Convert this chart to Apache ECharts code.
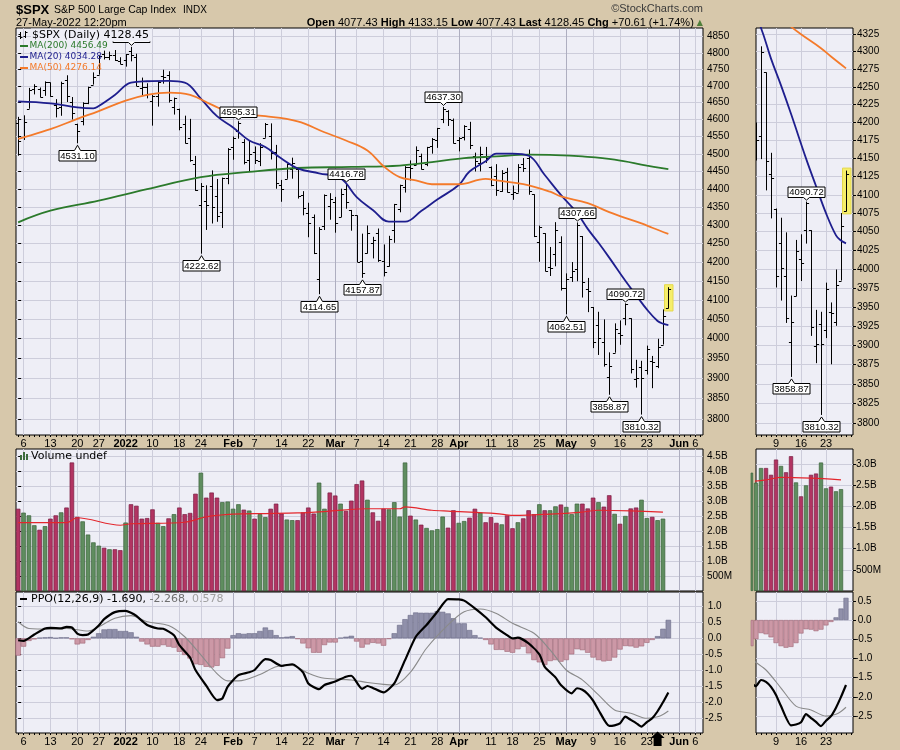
<!DOCTYPE html>
<html><head><meta charset="utf-8">
<script src="https://cdn.jsdelivr.net/npm/echarts@6.0.0/dist/echarts.min.js"></script>
<style>html,body{margin:0;padding:0;background:#D7C8AB;}#c{width:900px;height:750px;}</style>
</head><body><div id="c"></div>
<script>
// ---------------- DATA ----------------
// trading days Dec 3 2021 .. May 27 2022 (index 0..121)
const open = [4589.49,4548.37,4631.97,4690.86,4691.00,4687.64,4710.30,4642.99,4636.46,4719.13,
4652.50,4587.90,4594.96,4650.36,4703.96,4733.99,4795.49,4788.64,4794.23,4775.21,
4778.14,4804.51,4787.99,4693.39,4697.66,4655.34,4669.14,4728.59,4733.56,4637.99,
4632.24,4588.03,4547.35,4471.38,4356.32,4366.64,4408.43,4380.58,4336.19,4431.79,
4519.57,4566.39,4535.41,4482.79,4505.75,4480.02,4547.00,4553.24,4506.27,4412.61,
4429.28,4455.75,4456.06,4384.57,4332.74,4324.01,4155.77,4298.38,4354.17,4363.14,
4322.56,4401.31,4342.12,4327.01,4202.66,4223.10,4252.55,4279.50,4202.75,4188.82,
4288.14,4345.11,4407.34,4462.40,4469.10,4493.10,4469.98,4522.91,4541.09,4602.86,
4624.20,4599.02,4540.32,4547.97,4572.45,4494.17,4474.65,4494.15,4462.64,4437.59,
4394.30,4449.12,4385.63,4390.63,4472.26,4489.17,4385.83,4255.34,4278.14,4186.52,
4222.58,4253.75,4130.61,4159.78,4181.18,4270.43,4128.17,4081.27,4035.18,3990.08,
3903.95,3963.90,4013.02,4052.00,4051.98,3899.00,3927.76,3919.42,3942.94,3929.59,
3984.60,4077.43];
const high = [4608.03,4612.60,4694.04,4705.06,4695.26,4713.57,4710.30,4660.47,4712.60,4731.99,
4666.70,4587.90,4651.14,4697.67,4740.74,4791.49,4807.02,4804.06,4808.93,4786.83,
4796.64,4818.62,4797.70,4725.01,4707.95,4673.02,4714.13,4748.83,4744.13,4665.13,
4632.24,4611.55,4602.11,4494.52,4417.35,4411.01,4453.23,4428.74,4432.72,4516.89,
4550.49,4595.31,4542.88,4539.66,4521.86,4531.32,4590.03,4588.92,4526.33,4426.22,
4472.77,4489.55,4456.06,4394.60,4362.12,4329.50,4294.73,4385.34,4388.84,4378.45,
4401.48,4416.78,4342.12,4327.01,4276.94,4299.40,4268.28,4291.01,4247.57,4271.05,
4358.90,4412.67,4465.40,4481.75,4522.00,4501.07,4520.58,4546.03,4575.65,4637.30,
4627.77,4603.07,4548.70,4583.50,4593.45,4503.94,4521.16,4520.41,4464.35,4471.00,
4453.92,4460.46,4410.31,4471.03,4488.29,4512.94,4385.83,4299.02,4278.14,4240.71,
4308.45,4269.68,4169.81,4200.10,4307.66,4270.43,4157.69,4081.27,4068.82,4049.09,
3964.80,4038.88,4046.46,4090.72,4051.98,3945.96,3943.42,3981.88,3955.68,3999.33,
4075.14,4133.15];
const low = [4495.12,4540.51,4631.97,4674.52,4665.98,4670.24,4667.60,4606.52,4611.22,4651.89,
4600.22,4531.10,4583.16,4645.53,4703.96,4733.99,4780.04,4778.08,4775.33,4765.75,
4758.17,4774.27,4699.44,4671.26,4662.74,4582.24,4638.27,4706.71,4650.29,4614.75,
4568.70,4530.20,4477.95,4395.34,4222.62,4287.11,4304.80,4309.50,4292.46,4414.02,
4483.53,4544.32,4470.39,4451.50,4471.47,4465.40,4547.00,4484.31,4401.41,4364.84,
4429.28,4429.68,4373.81,4327.22,4267.11,4221.51,4114.65,4286.83,4315.12,4279.54,
4322.56,4345.56,4284.98,4199.85,4157.87,4223.10,4209.80,4200.49,4161.72,4187.90,
4251.99,4335.65,4390.57,4424.30,4469.10,4455.81,4465.17,4501.07,4517.69,4589.66,
4581.32,4530.41,4507.57,4539.21,4514.17,4450.04,4450.30,4474.60,4408.38,4381.34,
4392.70,4390.77,4370.30,4390.63,4448.76,4384.47,4267.62,4200.82,4175.04,4162.90,
4188.63,4124.28,4062.51,4147.08,4148.91,4106.01,4067.91,3975.48,3958.17,3928.82,
3858.87,3963.90,3983.99,4033.93,3911.91,3876.58,3810.32,3909.04,3875.13,3925.03,
3984.60,4077.43];
const close = [4538.43,4591.67,4686.75,4701.21,4667.45,4712.02,4668.97,4634.09,4709.85,4668.67,
4620.64,4568.02,4649.23,4696.56,4725.79,4791.19,4786.35,4793.06,4778.73,4766.18,
4796.56,4793.54,4700.58,4696.05,4677.03,4670.29,4713.07,4726.35,4659.03,4662.85,
4577.11,4532.76,4482.73,4397.94,4410.13,4356.45,4349.93,4326.51,4431.85,4515.55,
4546.54,4589.38,4477.44,4500.53,4483.87,4521.54,4587.18,4504.08,4418.64,4401.67,
4471.07,4475.01,4380.26,4348.87,4304.76,4225.50,4288.70,4384.65,4373.94,4306.26,
4386.54,4363.49,4328.87,4201.09,4170.70,4277.88,4259.52,4204.31,4173.11,4262.45,
4357.86,4411.67,4463.12,4461.18,4511.61,4456.24,4520.16,4543.06,4575.52,4631.60,
4602.45,4530.41,4545.86,4582.64,4525.12,4481.15,4500.21,4488.28,4412.53,4397.45,
4446.59,4392.59,4391.69,4462.21,4459.45,4393.66,4271.78,4296.12,4175.20,4183.96,
4287.50,4131.93,4155.38,4175.48,4300.17,4146.87,4123.34,3991.24,4001.05,3935.18,
3930.08,4023.89,4008.01,4088.85,3923.68,3900.79,3901.36,3973.75,3941.48,3978.73,
4057.84,4128.45];
const prevClose0 = 4577.10;   // close before the first bar (colours first volume bar)

// volume in billions (last day undefined)
const volume = [2.74,2.61,2.52,2.19,2.04,2.16,2.41,2.52,2.62,2.78,
4.28,2.47,2.32,1.88,1.62,1.51,1.44,1.39,1.39,1.36,
2.28,2.89,2.84,2.41,2.43,2.72,2.27,2.16,2.42,2.56,
2.78,2.56,2.60,3.24,3.94,3.11,3.28,3.11,2.96,2.98,
2.74,2.89,2.71,2.68,2.41,2.56,2.46,2.74,2.91,2.58,
2.38,2.36,2.36,2.62,2.78,2.58,3.61,2.74,3.28,3.18,
2.91,2.67,3.01,3.56,3.68,3.04,2.62,2.34,2.74,2.72,
2.96,2.48,4.28,2.51,2.38,2.21,2.10,2.02,2.06,2.48,
2.11,2.69,2.27,2.33,2.44,2.74,2.61,2.29,2.46,2.27,
2.22,2.52,2.09,2.29,2.42,2.69,2.56,2.89,2.69,2.69,
2.82,2.88,2.80,2.56,2.91,2.91,2.75,3.11,2.96,2.81,
3.19,2.57,2.24,2.50,2.75,2.78,3.04,2.43,2.47,2.36,
2.41,null];
const volMA = [[0,2.28],[9,2.28],[11,2.44],[19,2.19],[21,2.24],[31,2.29],[35,2.47],[40,2.56],[46,2.58],
[52,2.60],[58,2.66],[65,2.74],[71,2.74],[72,2.80],[77,2.69],[80,2.66],[89,2.58],[92,2.52],[99,2.56],
[105,2.63],[108,2.69],[114,2.67],[120,2.63]];

// moving averages: [bar index, value]
const ma200 = [[0,4308],[6,4340],[15,4368],[24,4400],[34,4434],[43,4449],[52,4460],[62,4463],[71,4467],
[77,4477],[83,4488],[89,4493],[95,4498],[100,4497],[105,4493],[111,4484],[117,4467],[121,4456.49]];
const ma50 = [[0,4544],[1,4548],[6,4572],[11,4602],[15,4625],[20,4656],[24,4673],[28,4680],[32,4673],
[36,4644],[40,4618],[46,4610],[52,4595],[57,4563],[61,4539],[65,4510],[68,4465],[71,4434],[74,4425],
[77,4414],[82,4414],[87,4429],[89,4425],[94,4414],[99,4393],[101,4380],[106,4361],[110,4336],
[112,4325],[116,4305],[118,4293],[121,4276.14]];
const ma20 = [[0,4654],[6,4648],[11,4636],[14,4633],[15,4640],[18,4673],[21,4710],[24,4714],[28,4715],
[31,4710],[34,4662],[37,4610],[40,4577],[43,4539],[46,4520],[49,4487],[52,4459],[56,4445],[60,4431],
[63,4378],[66,4342],[69,4310],[72,4310],[75,4339],[78,4371],[82,4412],[84,4450],[87,4479],[89,4501],
[92,4501],[95,4495],[98,4440],[101,4384],[104,4334],[106,4290],[108,4252],[110,4212],[113,4150],
[115,4112],[117,4075],[119,4045],[120,4038],[121,4034.28]];

// PPO(12,26,9)
const ppo = [[0,-0.06],[1,-0.08],[3,0.12],[5,0.31],[6,0.33],[8,0.31],[9,0.36],[10,0.34],[11,0.15],[12,0.10],
[13,0.12],[15,0.40],[16,0.60],[18,0.82],[20,0.86],[21,0.80],[22,0.70],[24,0.42],[26,0.31],[27,0.30],
[29,0.10],[30,-0.21],[32,-0.60],[33,-0.99],[35,-1.48],[37,-1.93],[38,-1.88],[39,-1.51],[41,-1.15],
[43,-1.06],[44,-0.99],[46,-0.65],[47,-0.68],[49,-0.86],[51,-0.81],[53,-1.06],[54,-1.41],[56,-1.59],
[57,-1.46],[59,-1.35],[61,-1.20],[62,-1.17],[64,-1.58],[65,-1.49],[66,-1.55],[68,-1.69],[70,-1.41],
[72,-0.68],[74,0.05],[76,0.42],[78,0.83],[80,1.23],[82,1.22],[83,1.18],[85,0.94],[87,0.66],[89,0.33],
[91,0.10],[92,0.00],[93,0.02],[95,-0.16],[97,-0.50],[98,-0.89],[100,-1.22],[101,-1.46],[103,-1.72],
[104,-1.56],[105,-1.61],[106,-1.74],[107,-1.95],[108,-2.24],[110,-2.74],[111,-2.72],[112,-2.66],
[113,-2.45],[114,-2.55],[115,-2.65],[116,-2.76],[117,-2.62],[118,-2.50],[119,-2.28],[120,-2.00],[121,-1.69]];
const ppoSignal = [[0,0.52],[2,0.31],[6,0.29],[9,0.31],[13,0.23],[15,0.36],[18,0.63],[21,0.71],[24,0.52],
[28,0.40],[31,0.05],[34,-0.52],[37,-1.10],[39,-1.33],[41,-1.33],[45,-1.13],[48,-0.89],[51,-0.85],
[54,-1.09],[57,-1.25],[62,-1.30],[65,-1.38],[68,-1.44],[70,-1.46],[73,-1.06],[76,-0.31],[80,0.42],
[83,0.83],[86,0.92],[89,0.78],[92,0.47],[96,0.16],[99,-0.36],[102,-0.99],[105,-1.30],[108,-1.77],
[111,-2.24],[114,-2.34],[117,-2.50],[119,-2.45],[120,-2.38],[121,-2.27]];
const ppoHist = [-0.54,-0.26,-0.08,-0.03,0.02,0.03,0.04,0.01,0.03,0.03,
-0.03,-0.19,-0.16,-0.05,0.05,0.16,0.28,0.29,0.29,0.23,
0.23,0.19,0.05,-0.10,-0.19,-0.26,-0.26,-0.21,-0.26,-0.29,
-0.42,-0.52,-0.63,-0.81,-0.83,-0.89,-0.91,-0.86,-0.62,-0.32,
0.10,0.16,0.14,0.16,0.16,0.23,0.34,0.26,0.10,0.03,
0.05,0.07,-0.02,-0.16,-0.31,-0.45,-0.45,-0.21,-0.13,-0.13,
0.02,0.05,0.08,-0.10,-0.29,-0.19,-0.14,-0.16,-0.23,-0.02,
0.16,0.42,0.60,0.73,0.81,0.80,0.80,0.80,0.85,0.83,
0.78,0.63,0.47,0.47,0.26,0.10,0.02,-0.05,-0.19,-0.36,
-0.36,-0.42,-0.45,-0.34,-0.26,-0.47,-0.68,-0.75,-0.83,-0.71,
-0.68,-0.73,-0.68,-0.50,-0.34,-0.37,-0.45,-0.60,-0.68,-0.72,
-0.70,-0.60,-0.35,-0.24,-0.25,-0.29,-0.25,-0.14,-0.05,0.07,
0.30,0.578];

// price callouts [bar index, price, +1 above / -1 below]
const calloutsMain = [[11,4531.10,-1],[21,4818.62,1],[34,4222.62,-1],[41,4595.31,1],[56,4114.65,-1],
[61,4416.78,1],[64,4157.87,-1],[79,4637.30,1],[102,4062.51,-1],[104,4307.66,1],[110,3858.87,-1],
[113,4090.72,1],[116,3810.32,-1]];
const calloutsZoom = [[110,3858.87,-1],[113,4090.72,1],[116,3810.32,-1]];
const signalIdx = 119;   // PPO crossover arrow

// axis ticks
const xTickIdx = [1,6,11,15,20,25,30,34,40,44,49,54,59,63,68,73,78,82,88,92,97,102,107,112,117,123,126];
const xTickText = ['6','13','20','27','2022','10','18','24','Feb','7','14','22','Mar','7','14','21','28','Apr','11','18','25','May','9','16','23','Jun','6'];
const monthIdx = [20,40,59,82,102,123];
const xTickIdxZoom = [107,112,117];
const xTickTextZoom = ['9','16','23'];
const yTicksMain = [3800,3850,3900,3950,4000,4050,4100,4150,4200,4250,4300,4350,4400,4450,4500,4550,4600,4650,4700,4750,4800,4850];
const yTicksZoom = [3800,3825,3850,3875,3900,3925,3950,3975,4000,4025,4050,4075,4100,4125,4150,4175,4200,4225,4250,4275,4300,4325];
const volTicks = [0.5,1.0,1.5,2.0,2.5,3.0,3.5,4.0,4.5];
const volTicksZoom = [0.5,1.0,1.5,2.0,2.5,3.0];
const ppoTicks = [-2.5,-2.0,-1.5,-1.0,-0.5,0.0,0.5,1.0];
const ppoTicksZoom = [-2.5,-2.0,-1.5,-1.0,-0.5,0.0,0.5];

// ---------------- STYLE ----------------
const PLOT = '#EEEEF6', GRIDC = '#CDCDDB', MONTHC = '#AEAEC0';
const F = '"Liberation Sans", Arial, sans-serif';
const FV = '"DejaVu Sans", Verdana, sans-serif';
const X0 = -0.4, X1 = 127.45, XZ0 = 103, XZ1 = 122.4;
const P_MIN = Math.log(3761), P_MAX = Math.log(4877);
const PZ_MIN = Math.log(3785), PZ_MAX = Math.log(4334);
const PPO_MIN = -2.96, PPO_MAX = 1.45, PPOZ_MIN = -2.94, PPOZ_MAX = 0.73;
const lastIdx = close.length - 1;

const barTicks = []; for (let i = 0; i <= 127; i++) barTicks.push(i);

const grids = [
  {left:16, top:28, width:687, height:407},
  {left:756, top:28, width:97, height:407},
  {left:16, top:449, width:687, height:142},
  {left:756, top:449, width:97, height:142},
  {left:16, top:592, width:687, height:141},
  {left:756, top:592, width:97, height:141}
].map(g => Object.assign(g, {show:true, backgroundColor:PLOT, borderColor:'#000', borderWidth:1, containLabel:false, outerBoundsMode:'none'}));

function fmtX(v) {
  const k = xTickIdx.indexOf(Math.round(v));
  if (k < 0) return '';
  const t = xTickText[k];
  return ['2022','Feb','Mar','Apr','May','Jun'].includes(t) ? '{m|' + t + '}' : t;
}
function fmtXZ(v) { const k = xTickIdxZoom.indexOf(Math.round(v)); return k < 0 ? '' : xTickTextZoom[k]; }

const xLabel = (show, vals, fmt) => ({show, customValues: vals, formatter: fmt, margin: 3, color:'#000', fontSize:11, fontFamily:F,
  rich:{m:{fontWeight:'bold', fontSize:11, fontFamily:F, color:'#000'}}});
function mainX(grid, min, max, vals, fmt, showLabel) {
  return {gridIndex:grid, type:'value', min, max, position:'bottom',
    axisLine:{show:false}, axisTick:{show:false, customValues:vals},
    axisLabel: xLabel(showLabel, vals, fmt),
    splitLine:{show:true, lineStyle:{color:GRIDC, width:1}}};
}
function tickX(grid, min, max) {
  return {gridIndex:grid, type:'value', min, max, position:'bottom', offset:0,
    axisLine:{show:false}, axisLabel:{show:false},
    axisTick:{show:true, length:2, customValues:barTicks, lineStyle:{color:'#000', width:1}},
    splitLine:{show:false}};
}
function monthX(grid) {
  return {gridIndex:grid, type:'value', min:X0, max:X1, position:'bottom', offset:0,
    axisLine:{show:false}, axisLabel:{show:false, customValues:monthIdx}, axisTick:{show:false, customValues:monthIdx},
    splitLine:{show:true, lineStyle:{color:MONTHC, width:1}}};
}
const xAxis = [
  mainX(0, X0, X1, xTickIdx, fmtX, true),        //0
  mainX(1, XZ0, XZ1, xTickIdxZoom, fmtXZ, true), //1
  mainX(2, X0, X1, xTickIdx, fmtX, false),       //2
  mainX(3, XZ0, XZ1, xTickIdxZoom, fmtXZ, false),//3
  mainX(4, X0, X1, xTickIdx, fmtX, true),        //4
  mainX(5, XZ0, XZ1, xTickIdxZoom, fmtXZ, true), //5
  tickX(0, X0, X1), tickX(1, XZ0, XZ1), tickX(4, X0, X1), tickX(5, XZ0, XZ1),
  monthX(0), monthX(2), monthX(4)
];

function yAx(grid, min, max, ticks, fmt, margin) {
  return {gridIndex:grid, type:'value', position:'right', min, max,
    axisLine:{show:false},
    axisTick:{show:true, length:3, customValues:ticks, lineStyle:{color:'#000'}},
    axisLabel:{show:true, customValues:ticks, formatter:fmt, margin:margin, color:'#000', fontSize:10, fontFamily:F},
    splitLine:{show:true, lineStyle:{color:GRIDC, width:1}}};
}
const fmtP = v => String(Math.round(Math.exp(v)));
const fmtV = v => v < 1 ? Math.round(v * 1000) + 'M' : v.toFixed(1) + 'B';
const fmtPPO = v => (v >= 0 ? ' ' : '') + v.toFixed(1);
const yAxis = [
  yAx(0, P_MIN, P_MAX, yTicksMain.map(Math.log), fmtP, 4),
  yAx(1, PZ_MIN, PZ_MAX, yTicksZoom.map(Math.log), fmtP, 4),
  yAx(2, 0, 4.73, volTicks, fmtV, 4),
  yAx(3, 0, 3.36, volTicksZoom, fmtV, 3),
  yAx(4, PPO_MIN, PPO_MAX, ppoTicks, fmtPPO, 2),
  yAx(5, PPOZ_MIN, PPOZ_MAX, ppoTicksZoom, fmtPPO, 2)
];

// ---------------- RENDERERS ----------------
const bars = open.map((o, i) => [i, o, high[i], low[i], close[i]]);
function ohlcItem(params, api) {
  const i = api.value(0);
  const ph = api.coord([i, Math.log(api.value(2))]);
  const pl = api.coord([i, Math.log(api.value(3))]);
  const po = api.coord([i, Math.log(api.value(1))]);
  const pc = api.coord([i, Math.log(api.value(4))]);
  const x = Math.round(ph[0]) + 0.5, t = 2.6;
  const yo = Math.round(po[1]) + 0.5, yc = Math.round(pc[1]) + 0.5;
  const ch = [];
  if (i === lastIdx) ch.push({type:'rect', shape:{x:x - 4, y:ph[1] - 2.5, width:8.5, height:pl[1] - ph[1] + 5},
    style:{fill:'#F6EE6A', stroke:'#E4D84C', lineWidth:1}});
  ch.push({type:'line', shape:{x1:x, y1:ph[1], x2:x, y2:pl[1]}, style:{stroke:'#000', lineWidth:1}});
  ch.push({type:'line', shape:{x1:x - t, y1:yo, x2:x, y2:yo}, style:{stroke:'#000', lineWidth:1}});
  ch.push({type:'line', shape:{x1:x, y1:yc, x2:x + t, y2:yc}, style:{stroke:'#000', lineWidth:1}});
  return {type:'group', children:ch};
}
function calloutItem(params, api) {
  const i = api.value(0), p = api.value(1), dir = api.value(2);
  const pt = api.coord([i, Math.log(p)]);
  const x = Math.round(pt[0]) + 0.5, y = pt[1];
  const w = 37, h = 10.5;
  let pts, ty;
  if (dir < 0) {
    const apex = y + 2, top = Math.round(y + 6.5) + 0.5, bot = top + h;
    pts = [[x - w / 2, top], [x - 3, top], [x, apex], [x + 3, top], [x + w / 2, top], [x + w / 2, bot], [x - w / 2, bot]];
    ty = (top + bot) / 2 + 0.5;
  } else {
    const apex = y - 1.5, bot = Math.round(y - 4.5) + 0.5, top = bot - h;
    pts = [[x - w / 2, bot], [x - 3, bot], [x, apex], [x + 3, bot], [x + w / 2, bot], [x + w / 2, top], [x - w / 2, top]];
    ty = (top + bot) / 2 + 0.5;
  }
  return {type:'group', children:[
    {type:'polygon', shape:{points:pts}, style:{fill:'#fff', stroke:'#000', lineWidth:1}},
    {type:'text', style:{text:p.toFixed(2), x:x, y:ty, align:'center', verticalAlign:'middle', font:'9.5px ' + F, fill:'#000'}}
  ]};
}
function arrowItem(params, api) {
  const p = api.coord([api.value(0), api.value(1)]);
  const x = p[0], b = p[1];
  return {type:'polygon', shape:{points:[[x, b - 1.5], [x + 7, b + 5], [x + 4, b + 5], [x + 4, b + 13], [x - 4, b + 13], [x - 4, b + 5], [x - 7, b + 5]]},
    style:{fill:'#000'}};
}
const logPts = arr => arr.map(([i, v]) => [i, Math.log(v)]);
const volData = volume.map((v, i) => {
  if (v == null) return null;
  const up = close[i] >= (i ? close[i - 1] : prevClose0);
  return {value:[i, v], itemStyle:{color: up ? '#5F8D5F' : '#B23462', borderColor: up ? '#3B633B' : '#7A1E43', borderWidth:0.7}};
}).filter(d => d);
const histData = ppoHist.map((v, i) => ({value:[i, v], itemStyle:{color: v >= 0 ? '#9090AA' : '#CC98A6', borderColor: v >= 0 ? '#6A6A86' : '#A06676', borderWidth:0.6}}));

function lineS(name, xi, yi, data, color, width, z, smooth) {
  return {name, type:'line', xAxisIndex:xi, yAxisIndex:yi, data, showSymbol:false, symbol:'none', smooth:smooth,
    lineStyle:{color, width}, z, silent:true, clip:true};
}

const series = [
  {type:'custom', name:'ohlc', xAxisIndex:0, yAxisIndex:0, data:bars, renderItem:ohlcItem, clip:true, z:2, encode:{x:0, y:2}},
  lineS('MA200', 0, 0, logPts(ma200), '#2B7A2B', 1.8, 3, 0.4),
  lineS('MA20', 0, 0, logPts(ma20), '#1E1E8E', 1.8, 3, 0.4),
  lineS('MA50', 0, 0, logPts(ma50), '#F47A2A', 1.8, 3, 0.4),
  {type:'custom', name:'callouts', xAxisIndex:0, yAxisIndex:0, data:calloutsMain, renderItem:calloutItem, clip:true, z:5, encode:{x:0, y:1}},

  {type:'custom', name:'ohlcZ', xAxisIndex:1, yAxisIndex:1, data:bars, renderItem:ohlcItem, clip:true, z:2, encode:{x:0, y:2}},
  lineS('MA20z', 1, 1, logPts(ma20), '#1E1E8E', 1.8, 3, 0.4),
  lineS('MA50z', 1, 1, logPts(ma50), '#F47A2A', 1.8, 3, 0.4),
  {type:'custom', name:'calloutsZ', xAxisIndex:1, yAxisIndex:1, data:calloutsZoom, renderItem:calloutItem, clip:true, z:5, encode:{x:0, y:1}},

  {type:'bar', name:'vol', xAxisIndex:2, yAxisIndex:2, data:volData, barWidth:4.5, z:2, silent:true},
  lineS('volMA', 2, 2, volMA, '#E3262C', 1.2, 3, 0.3),
  {type:'bar', name:'volZ', xAxisIndex:3, yAxisIndex:3, data:volData, barWidth:4.2, z:2, silent:true},
  lineS('volMAz', 3, 3, volMA, '#E3262C', 1.2, 3, 0.3),

  {type:'bar', name:'hist', xAxisIndex:4, yAxisIndex:4, data:histData, barWidth:5.37, z:2, silent:true},
  lineS('signal', 4, 4, ppoSignal, '#8A8A8A', 1.1, 3, 0.3),
  lineS('ppo', 4, 4, ppo, '#000', 2.2, 4, 0.2),
  {type:'bar', name:'histZ', xAxisIndex:5, yAxisIndex:5, data:histData, barWidth:5, z:2, silent:true},
  lineS('signalZ', 5, 5, ppoSignal, '#8A8A8A', 1.1, 3, 0.3),
  lineS('ppoZ', 5, 5, ppo, '#000', 2.2, 4, 0.2),
  {type:'custom', name:'arrow', xAxisIndex:4, yAxisIndex:4, data:[[signalIdx, PPO_MIN]], renderItem:arrowItem, clip:false, z:6, encode:{x:0, y:1}}
];

// ---------------- TEXT ----------------
const Z = 50;
const txt = (x, y, text, font, fill, extra) => ({type:'text', x, y, z:Z, style:Object.assign({text, font, fill: fill || '#000', verticalAlign:'middle'}, extra || {})});
const dash = (x, y, w, color) => ({type:'rect', z:Z, shape:{x, y: y - 1, width:w, height:2}, style:{fill:color}});
const statRich = {
  b:{fontFamily:F, fontSize:11, fontWeight:'bold', fill:'#000'},
  r:{fontFamily:F, fontSize:11, fill:'#000'},
  g:{fontFamily:FV, fontSize:8, fill:'#4F7F3A'}
};
const graphic = [
  txt(16, 10, '$SPX', 'bold 13px ' + F),
  txt(54, 10, 'S&P 500 Large Cap Index', '10.5px ' + F),
  txt(183, 10, 'INDX', '10px ' + F),
  txt(16, 23, '27-May-2022 12:20pm', '11px ' + F),
  txt(703, 9, '\u00A9StockCharts.com', '11px ' + F, '#3A3A3A', {align:'right'}),
  {type:'text', x:703, y:23, z:Z, style:{text:'{b|Open} {r|4077.43} {b|High} {r|4133.15} {b|Low} {r|4077.43} {b|Last} {r|4128.45} {b|Chg} {r|+70.61 (+1.74%)} {g|\u25B2}',
    rich:statRich, font:'11px ' + F, align:'right', verticalAlign:'middle', fill:'#000'}},
  // price legend
  txt(31, 35, '$SPX (Daily) 4128.45', '11px ' + FV, '#000', {backgroundColor:PLOT, padding:[1, 3, 1, 1]}),
  {type:'polyline', z:Z, shape:{points:[[20.5, 32], [20.5, 39]]}, style:{stroke:'#000', lineWidth:1}},
  {type:'polyline', z:Z, shape:{points:[[18.5, 34.5], [20.5, 34.5]]}, style:{stroke:'#000', lineWidth:1}},
  {type:'polyline', z:Z, shape:{points:[[20.5, 37.5], [22.5, 37.5]]}, style:{stroke:'#000', lineWidth:1}},
  {type:'polyline', z:Z, shape:{points:[[25.5, 31], [25.5, 38]]}, style:{stroke:'#000', lineWidth:1}},
  {type:'polyline', z:Z, shape:{points:[[23.5, 36.5], [25.5, 36.5]]}, style:{stroke:'#000', lineWidth:1}},
  {type:'polyline', z:Z, shape:{points:[[25.5, 32.5], [27.5, 32.5]]}, style:{stroke:'#000', lineWidth:1}},
  dash(20, 46, 8, '#2B7A2B'), txt(29.5, 46, 'MA(200) 4456.49', '9px ' + FV, '#2B7A2B'),
  dash(20, 57, 8, '#1E1E8E'), txt(29.5, 57, 'MA(20) 4034.28', '9px ' + FV, '#1E1E8E'),
  dash(20, 68, 8, '#F47A2A'), txt(29.5, 68, 'MA(50) 4276.14', '9px ' + FV, '#F47A2A'),
  // volume legend
  {type:'rect', z:Z, shape:{x:20, y:455, width:2, height:5}, style:{fill:'#3E6E3E'}},
  {type:'rect', z:Z, shape:{x:23, y:452, width:2, height:8}, style:{fill:'#3E6E3E'}},
  {type:'rect', z:Z, shape:{x:26, y:454, width:2, height:6}, style:{fill:'#3E6E3E'}},
  txt(31, 456, 'Volume undef', '11px ' + FV),
  // ppo legend
  dash(20, 599, 7, '#000'),
  {type:'text', x:31, y:599, z:Z, style:{text:'{k|PPO(12,26,9) -1.690,} {s|-2.268,} {h|0.578}', verticalAlign:'middle', font:'11px ' + FV,
    rich:{k:{fontFamily:FV, fontSize:11, fill:'#000'}, s:{fontFamily:FV, fontSize:11, fill:'#6E6E6E'}, h:{fontFamily:FV, fontSize:11, fill:'#A0A0A0'}}}}
];

const chart = echarts.init(document.getElementById('c'), null, {renderer:'canvas', width:900, height:750});
chart.setOption({
  backgroundColor:'#D7C8AB',
  animation:false,
  grid:grids, xAxis, yAxis, series, graphic
});
</script></body></html>
